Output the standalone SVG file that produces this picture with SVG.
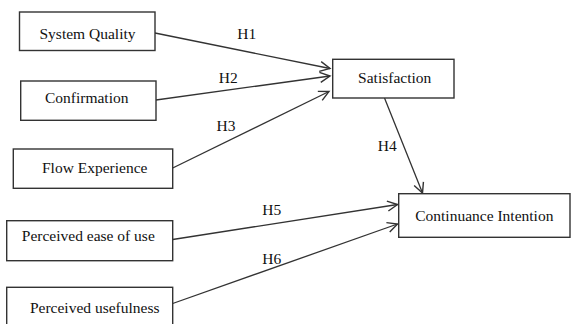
<svg xmlns="http://www.w3.org/2000/svg" width="571" height="324" viewBox="0 0 571 324">
<defs>
<style>
.box{fill:#fff;stroke:#333;stroke-width:1.4}
.lbl{font-family:"Liberation Serif","Times New Roman",serif;font-size:15.5px;fill:#111;text-anchor:middle}
.edge{stroke:#333;stroke-width:1.3;fill:none;marker-end:url(#arr)}
</style>
<marker id="arr" markerUnits="userSpaceOnUse" markerWidth="14" markerHeight="14" viewBox="0 0 14 14" refX="12" refY="7" orient="auto">
<path d="M2,2 L12,7 L2,12" fill="none" stroke="#333" stroke-width="1.4"/>
</marker>
</defs>
<rect width="571" height="324" fill="#fff"/>
<g id="connectors">
<line class="edge" x1="155" y1="33" x2="330" y2="68.5"/>
<line class="edge" x1="156" y1="100" x2="330" y2="76"/>
<line class="edge" x1="172.7" y1="168" x2="329" y2="91.5"/>
<line class="edge" x1="384.5" y1="98" x2="422.5" y2="193"/>
<line class="edge" x1="172.7" y1="239.5" x2="397.5" y2="204.5"/>
<line class="edge" x1="172.7" y1="303.5" x2="397.5" y2="224"/>
<text class="lbl" x="246.7" y="39">H1</text>
<text class="lbl" x="228.3" y="83">H2</text>
<text class="lbl" x="226" y="130.5">H3</text>
<text class="lbl" x="387.3" y="150.5">H4</text>
<text class="lbl" x="271.7" y="215">H5</text>
<text class="lbl" x="271.7" y="264.3">H6</text>
</g>
<g id="system-quality"><rect class="box" x="19.5" y="12" width="135.5" height="38.5"/><text class="lbl" x="87.5" y="39">System Quality</text></g>
<g id="confirmation"><rect class="box" x="20.7" y="81" width="135.3" height="39.3"/><text class="lbl" x="86.7" y="103.3">Confirmation</text></g>
<g id="flow-experience"><rect class="box" x="13.3" y="149" width="159.4" height="39.3"/><text class="lbl" x="94.7" y="173.3">Flow Experience</text></g>
<g id="perceived-ease"><rect class="box" x="6.7" y="220.7" width="166" height="40"/><text class="lbl" x="88.3" y="241">Perceived ease of use</text></g>
<g id="perceived-usefulness"><rect class="box" x="6.7" y="287.3" width="166" height="45"/><text class="lbl" x="94.7" y="313.3">Perceived usefulness</text></g>
<g id="satisfaction"><rect class="box" x="332.7" y="59.3" width="121.3" height="38.7"/><text class="lbl" x="394.7" y="83.3">Satisfaction</text></g>
<g id="continuance-intention"><rect class="box" x="398.7" y="193.7" width="171.3" height="43.6"/><text class="lbl" x="484.3" y="220.7">Continuance Intention</text></g>
</svg>
